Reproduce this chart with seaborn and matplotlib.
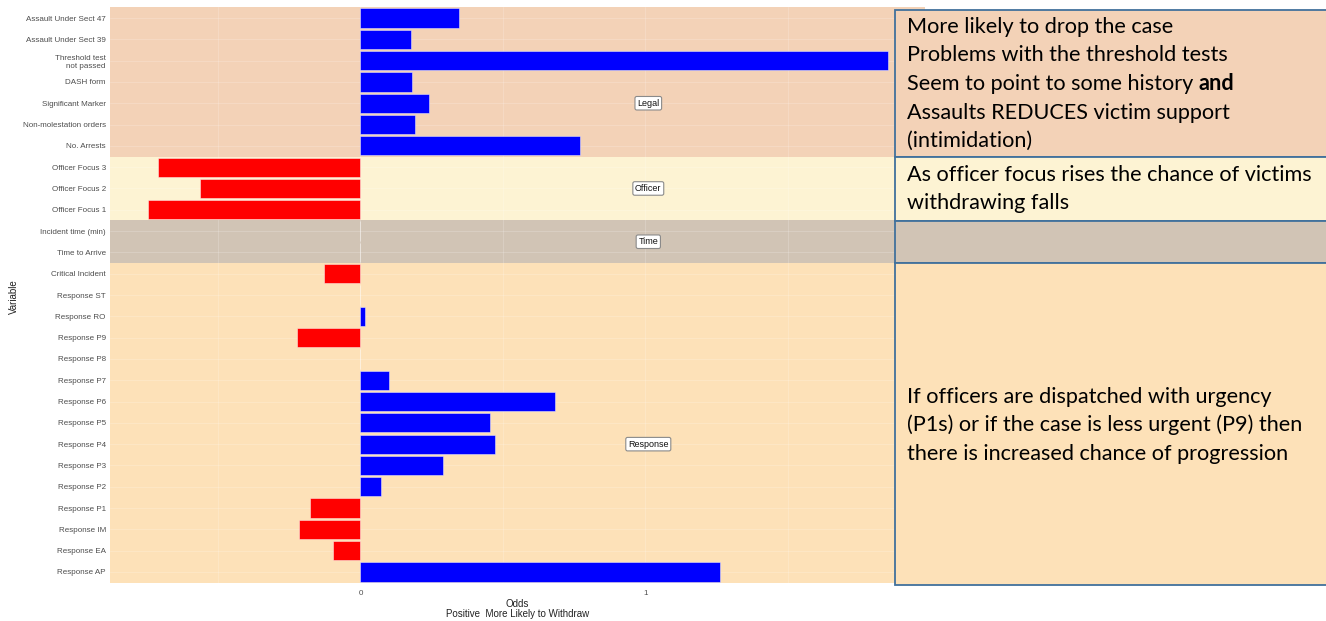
import matplotlib
matplotlib.use("Agg")
import matplotlib.pyplot as plt
import matplotlib.patches as mpatches
import seaborn as sns
import pandas as pd

variables = ["Assault Under Sect 47", "Assault Under Sect 39", "Threshold test\nnot passed",
             "DASH form", "Significant Marker", "Non-molestation orders", "No. Arrests",
             "Officer Focus 3", "Officer Focus 2", "Officer Focus 1",
             "Incident time (min)", "Time to Arrive",
             "Critical Incident", "Response ST", "Response RO", "Response P9", "Response P8",
             "Response P7", "Response P6", "Response P5", "Response P4", "Response P3",
             "Response P2", "Response P1", "Response IM", "Response EA", "Response AP"]
odds = [0.346, 0.177, 1.851, 0.181, 0.240, 0.191, 0.770,
        -0.711, -0.563, -0.747,
        0.0, 0.0,
        -0.128, 0.0, 0.016, -0.223, 0.0, 0.100, 0.682, 0.454, 0.472, 0.289,
        0.072, -0.177, -0.216, -0.096, 1.261]

groups = ["Legal", "Officer", "Time", "Response"]
group_sizes = [7, 3, 2, 15]
group_label_rows = [4, 8, 10.5, 20]
group_colors = ["#F3D2B7", "#FDF3D3", "#D1C4B5", "#FDE1B8"]

box_texts = [
    ["More likely to drop the case", "Problems with the threshold tests",
     "Seem to point to some history ", "Assaults REDUCES victim support", "(intimidation)"],
    ["As officer focus rises the chance of victims", "withdrawing falls"],
    [],
    ["If officers are dispatched with urgency",
     "(P1s) or if the case is less urgent (P9) then",
     "there is increased chance of progression"],
]

df = pd.DataFrame({"Variable": variables, "Odds": odds})
df["sign"] = ["neg" if v < 0 else "pos" for v in df["Odds"]]

W, H = 1326, 621
fig = plt.figure(figsize=(W / 100, H / 100), dpi=100)
sns.set_style("white")
plt.rcParams["font.family"] = ["Liberation Sans", "DejaVu Sans"]

ax_l, ax_r, ax_t, ax_b = 110, 925, 7.35, 582.65
ax = fig.add_axes([ax_l / W, 1 - ax_b / H, (ax_r - ax_l) / W, (ax_b - ax_t) / H])

# group bands
start = -0.5
for g, n, c in zip(groups, group_sizes, group_colors):
    ax.axhspan(start, start + n, color=c, zorder=0, lw=0)
    start += n

sns.barplot(data=df, x="Odds", y="Variable", hue="sign", order=variables,
            palette={"pos": "#0000FF", "neg": "#FF0000"}, dodge=False, width=0.9,
            saturation=1, legend=False, edgecolor=(1, 1, 1, 0.45), linewidth=0.7,
            ax=ax, zorder=2)

# grid lines
for xv in [-0.5, 0, 0.5, 1, 1.5]:
    ax.axvline(xv, color="white", alpha=0.18, lw=0.7, zorder=0.5)
for i in range(len(variables)):
    ax.axhline(i, color="white", alpha=0.18, lw=0.7, zorder=0.5)

ax.set_xlim(-0.879, 1.981)
ax.set_ylim(len(variables) - 0.5, -0.5)
ax.set_xticks([0, 1])
ax.set_xticklabels(["0", "1"])
ax.set_yticks(range(len(variables)))
ax.set_yticklabels(variables, linespacing=1.35)
ax.tick_params(axis="y", length=0, labelsize=5.8, labelcolor="#4D4D4D", pad=3)
ax.tick_params(axis="x", length=0, labelsize=5.8, labelcolor="#4D4D4D", pad=5)
for s in ax.spines.values():
    s.set_visible(False)
ax.set_ylabel("")
fig.text(14 / W, 1 - 297 / H, "Variable", rotation=90, ha="center", va="center",
         fontsize=7, color="#222222")
ax.set_xlabel("Odds\nPositive  More Likely to Withdraw", fontsize=7, color="#222222",
              labelpad=1.5, linespacing=1.05)

for g, r in zip(groups, group_label_rows):
    ax.text(1.01, r, g, ha="center", va="center", fontsize=6.5, color="#111111", zorder=4,
            bbox=dict(boxstyle="round,pad=0.25,rounding_size=0.2", fc="white",
                      ec="#8a8a8a", lw=0.8))

# right-hand text boxes
box_edges = [10, 156.5, 220.5, 263, 585]
line_ys = [[27, 55, 84, 113, 141], [175, 203], [], [397, 425, 454]]
box_font = ["Lato", "DejaVu Sans"]
fs = 15.6
renderer = fig.canvas.get_renderer()
for k in range(4):
    y0, y1 = box_edges[k], box_edges[k + 1]
    rect = mpatches.Rectangle((895 / W, 1 - y1 / H), (W + 10 - 895) / W, (y1 - y0) / H,
                              transform=fig.transFigure, fc=group_colors[k],
                              ec="#41719C", lw=1.3, zorder=5)
    fig.add_artist(rect)
    for line, ly in zip(box_texts[k], line_ys[k]):
        t = fig.text(907 / W, 1 - ly / H, line, ha="left", va="center", fontsize=fs,
                     family=box_font, color="black", zorder=6)
        if line.startswith("Seem to point"):
            bb = t.get_window_extent(renderer=renderer)
            fig.text(bb.x1 / W, 1 - ly / H, "and", ha="left", va="center", fontsize=fs,
                     family=box_font, fontweight="bold", color="black", zorder=6)

fig.savefig("out.png", dpi=100)
